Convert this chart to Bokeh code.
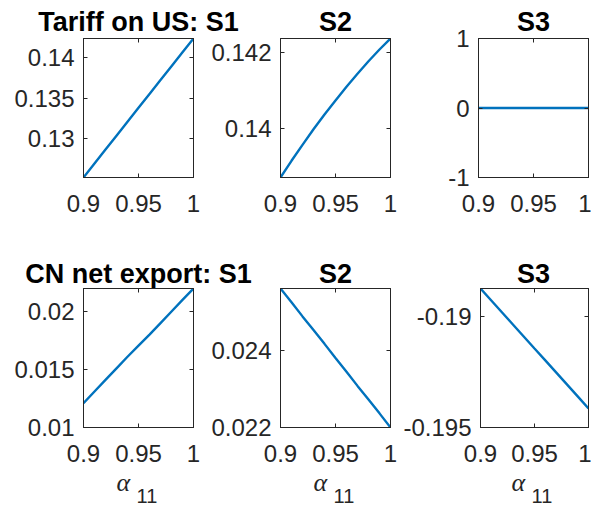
from bokeh.plotting import figure
from bokeh.models import Range1d, FixedTicker, LinearAxis, Label
from bokeh.layouts import column, row
from bokeh.embed import file_html
from bokeh.resources import INLINE

# ---------------- data ----------------
alpha_11 = [0.90, 0.91, 0.92, 0.93, 0.94, 0.95, 0.96, 0.97, 0.98, 0.99, 1.00]

tariff_s1 = [0.12526, 0.12697, 0.12868, 0.13039, 0.13210, 0.13380,
             0.13550, 0.13720, 0.13890, 0.14060, 0.14230]
tariff_s2 = [0.13870, 0.13914, 0.13956, 0.13997, 0.14036, 0.14073,
             0.14109, 0.14143, 0.14176, 0.14207, 0.14236]
tariff_s3 = [0.0, 0.0, 0.0, 0.0, 0.0, 0.0, 0.0, 0.0, 0.0, 0.0, 0.0]

netexp_s1 = [0.01210, 0.01310, 0.01410, 0.01510, 0.01610, 0.01705,
             0.01800, 0.01900, 0.02000, 0.02100, 0.02198]
netexp_s2 = [0.02563, 0.02527, 0.02490, 0.02454, 0.02418, 0.02381,
             0.02345, 0.02308, 0.02272, 0.02236, 0.02199]
netexp_s3 = [-0.18875, -0.18929, -0.18983, -0.19037, -0.19091, -0.19145,
             -0.19198, -0.19252, -0.19306, -0.19360, -0.19414]

titles_top = ["Tariff on US: S1", "S2", "S3"]
titles_bottom = ["CN net export: S1", "S2", "S3"]
x_label_symbol = "α"
x_label_sub = "11"

x_ticks = [0.9, 0.95, 1.0]
x_tick_labels = ["0.9", "0.95", "1"]

y_ticks = [[0.13, 0.135, 0.14], [0.14, 0.142], [-1.0, 0.0, 1.0],
           [0.01, 0.015, 0.02], [0.022, 0.024], [-0.195, -0.19]]
y_tick_labels = [["0.13", "0.135", "0.14"], ["0.14", "0.142"], ["-1", "0", "1"],
                 ["0.01", "0.015", "0.02"], ["0.022", "0.024"], ["-0.195", "-0.19"]]
y_limits = [(0.12526, 0.14230), (0.13870, 0.14236), (-1.0, 1.0),
            (0.01000, 0.02198), (0.02199, 0.02563), (-0.19500, -0.18875)]
x_limits = (0.9, 1.0)

series = [tariff_s1, tariff_s2, tariff_s3, netexp_s1, netexp_s2, netexp_s3]

# ---------------- style / layout ----------------
LINE_COLOR = "#0072BD"
AX_COLOR = "#262626"
TICK_FONT = "Liberation Sans"
TICK_SIZE = "24px"
TITLE_SIZE = "27px"
FRAME_W = 110
FRAME_H = 139
BORDERS_LR = [(83, 7), (80, 10), (78, 3)]
COL_W = [bl + FRAME_W + br for bl, br in BORDERS_LR]
TOTAL_W = sum(COL_W)
ROW_BT_BB = [(16, 73), (2, 40)]
TITLE_H = [40, 46]          # canvas height of the title strips
TITLE_OVERLAP = [18, 10]    # strip extends under the next row (negative margin)
TITLE_BASE = [19, 22.5]
XLAB_H = 43
XLAB_BASE = (28, 15)


def style_axis(ax, ticks, labels, show_labels=True):
    ax.ticker = FixedTicker(ticks=ticks)
    ax.major_label_overrides = {t: l for t, l in zip(ticks, labels)}
    ax.major_tick_in = 4
    ax.major_tick_out = 0
    ax.minor_tick_line_color = None
    ax.axis_line_color = AX_COLOR
    ax.major_tick_line_color = AX_COLOR
    ax.major_label_text_font = TICK_FONT
    if show_labels:
        ax.major_label_text_color = AX_COLOR
        ax.major_label_text_font_size = TICK_SIZE
    else:
        ax.major_label_text_color = None
        ax.major_label_text_font_size = "1px"
        ax.major_label_standoff = 0


def make_panel(idx):
    r, c = divmod(idx, 3)
    bl, br = BORDERS_LR[c]
    bt, bb = ROW_BT_BB[r]
    p = figure(width=COL_W[c], height=bt + FRAME_H + bb,
               x_range=Range1d(*x_limits), y_range=Range1d(*y_limits[idx]),
               output_backend="svg", toolbar_location=None, title=None,
               min_border_left=bl, min_border_right=br,
               min_border_top=bt, min_border_bottom=bb)
    p.background_fill_color = "white"
    p.border_fill_color = None
    p.outline_line_color = AX_COLOR
    p.outline_line_width = 1
    p.xgrid.visible = False
    p.ygrid.visible = False

    style_axis(p.xaxis[0], x_ticks, x_tick_labels)
    p.xaxis[0].major_label_standoff = 17
    style_axis(p.yaxis[0], y_ticks[idx], y_tick_labels[idx])
    p.yaxis[0].major_label_standoff = 9

    ax_r = LinearAxis()
    style_axis(ax_r, y_ticks[idx], y_tick_labels[idx], show_labels=False)
    p.add_layout(ax_r, "right")
    ax_t = LinearAxis()
    style_axis(ax_t, x_ticks, x_tick_labels, show_labels=False)
    p.add_layout(ax_t, "above")

    p.line(alpha_11, series[idx], line_color=LINE_COLOR, line_width=2.4)
    return p


def text_row(h, overlap=0):
    t = figure(width=TOTAL_W, height=h, x_range=Range1d(0, TOTAL_W), y_range=Range1d(0, h),
               output_backend="svg", toolbar_location=None, title=None,
               x_axis_location=None, y_axis_location=None, min_border=0)
    t.outline_line_color = None
    t.background_fill_color = None
    t.border_fill_color = None
    t.xgrid.visible = False
    t.ygrid.visible = False
    if overlap:
        t.margin = (0, 0, -overlap, 0)
    return t


def frame_centers():
    out, left = [], 0
    for c in range(3):
        bl, br = BORDERS_LR[c]
        out.append(left + bl + FRAME_W / 2)
        left += COL_W[c]
    return out


def make_title_row(r, titles):
    t = text_row(TITLE_H[r], TITLE_OVERLAP[r])
    for cx, txt in zip(frame_centers(), titles):
        t.add_layout(Label(x=cx, y=TITLE_BASE[r], text=txt,
                           text_font="Liberation Sans", text_font_style="bold",
                           text_font_size=TITLE_SIZE, text_color="black",
                           text_align="center", text_baseline="alphabetic"))
    return t


def make_xlabel_row():
    t = text_row(XLAB_H)
    for cx in frame_centers():
        t.add_layout(Label(x=cx - 22, y=XLAB_BASE[0], text=x_label_symbol,
                           text_font="Liberation Serif", text_font_style="italic",
                           text_font_size="26px", text_color=AX_COLOR,
                           text_align="left", text_baseline="alphabetic"))
        t.add_layout(Label(x=cx - 2, y=XLAB_BASE[1], text=x_label_sub,
                           text_font=TICK_FONT, text_font_size="20px",
                           text_color=AX_COLOR,
                           text_align="left", text_baseline="alphabetic"))
    return t


panels = [make_panel(i) for i in range(6)]
layout = column(
    make_title_row(0, titles_top),
    row(panels[0], panels[1], panels[2]),
    make_title_row(1, titles_bottom),
    row(panels[3], panels[4], panels[5]),
    make_xlabel_row(),
)

open("out.html", "w").write(file_html(layout, INLINE))
